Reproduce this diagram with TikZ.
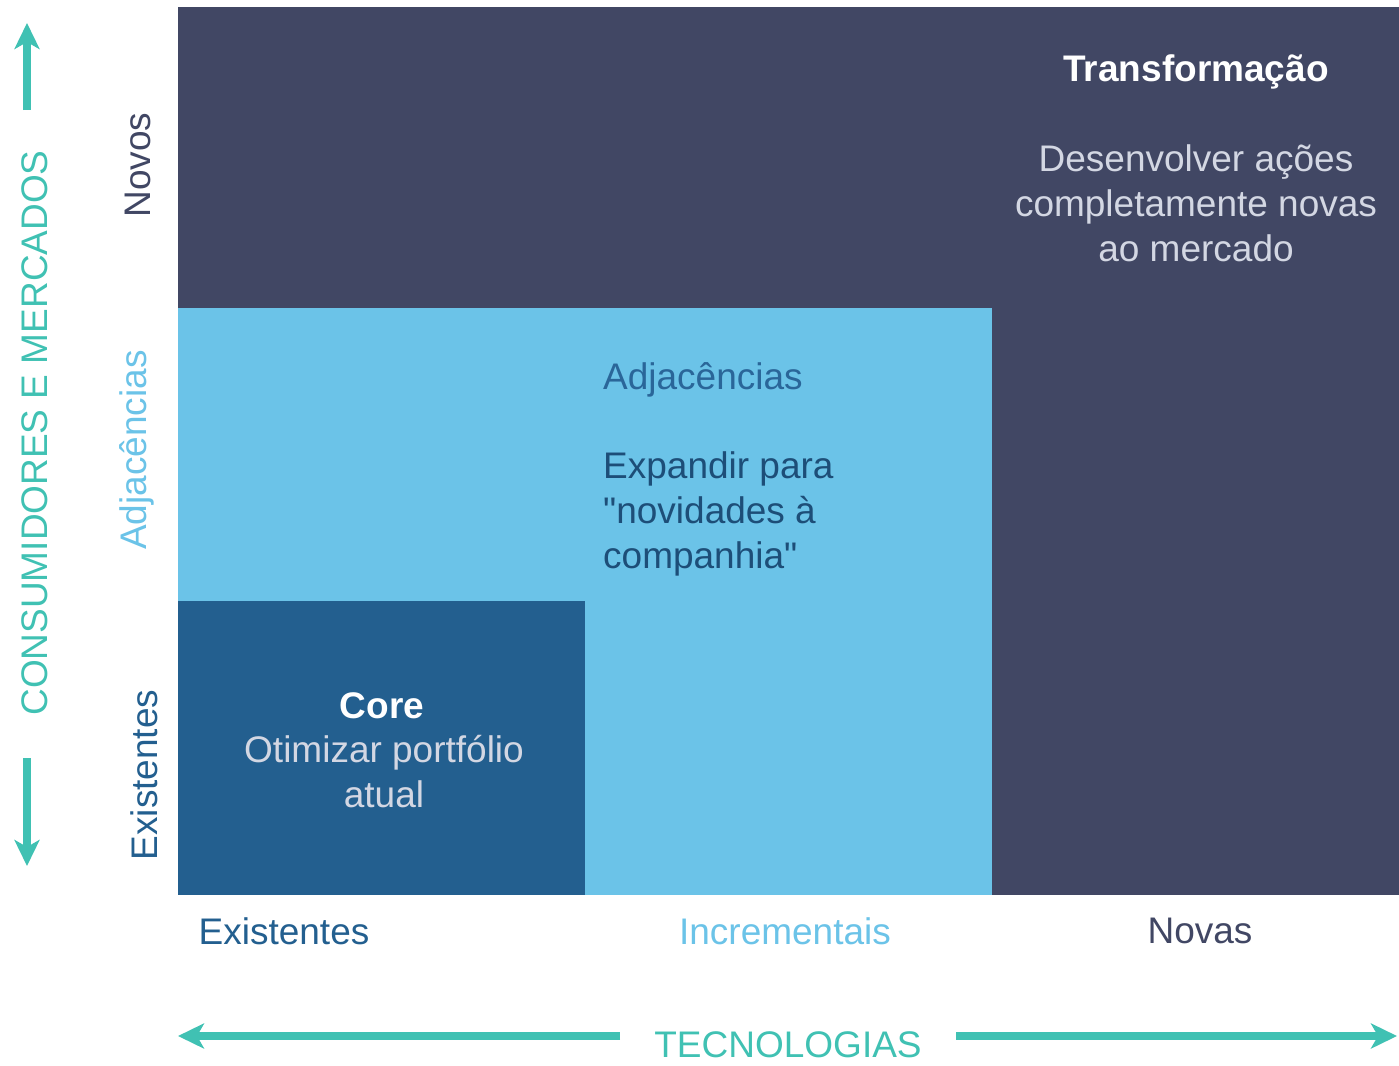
\documentclass[tikz,border=0pt]{standalone}
\usepackage{fontspec}
\setmainfont{Liberation Sans}
\usetikzlibrary{arrows.meta, positioning, calc}

\definecolor{navy}{HTML}{414764}
\definecolor{sky}{HTML}{6BC3E8}
\definecolor{coreblue}{HTML}{235F8F}
\definecolor{adjblue}{HTML}{2A6699}
\definecolor{deepblue}{HTML}{1D4E78}
\definecolor{mist}{HTML}{D3D7E3}
\definecolor{aqua}{HTML}{40C1B3}

\begin{document}
\begin{tikzpicture} [x = 1pt, y = -1pt,
  axis/.style = {aqua, line width = 8pt, -{Stealth[length = 26pt, width = 25pt, inset = 7pt]}},
  lbl/.style = {font = \fontsize{37}{45}\selectfont, inner sep = 0pt}]

\useasboundingbox (0,0) rectangle (1399,1065);

% blocks
\fill [navy] (178,7) rectangle (1399,895);
\fill [sky] (178,308) rectangle (992,895);
\fill [coreblue] (178,601) rectangle (585,895);

% axis arrows
\coordinate (up0) at (27,110);
\coordinate (up1) at (27,23);
\coordinate (dn0) at (27,758);
\coordinate (dn1) at (27,866);
\coordinate (lt0) at (620,1036);
\coordinate (lt1) at (178,1036);
\coordinate (rt0) at (956,1036);
\coordinate (rt1) at (1397,1036);

\draw [axis] (up0) -- (up1);
\draw [axis] (dn0) -- (dn1);
\draw [axis] (lt0) -- (lt1);
\draw [axis] (rt0) -- (rt1);

\node [lbl, aqua, rotate = 90] (consum) at (35,433) {CONSUMIDORES E MERCADOS};
\node [lbl, aqua] (tecno) at (788,1045) {TECNOLOGIAS};

% row labels
\node [lbl, navy, rotate = 90] (rnovos) at (138,165) {Novos};
\node [lbl, sky, rotate = 90] (radj) at (137,450) {Adjacências};
\node [lbl, coreblue, rotate = 90] (rexist) at (144,775) {Existentes};

% column labels
\node [lbl, coreblue] (cexist) at (284,931) {Existentes};
\node [lbl, sky] (cincr) at (785,931) {Incrementais};
\node [lbl, navy] (cnovas) at (1200,931) {Novas};

% block texts
\node [lbl, white, font = \fontsize{37}{45}\selectfont\bfseries] (transf) at (1196,72) {Transformação};
\node [lbl, mist, align = center] (transfbody) at (1196,203) {Desenvolver ações\\completamente novas\\ao mercado};

\node [lbl, adjblue, anchor = west] (adj) at (603,380) {Adjacências};
\node [lbl, deepblue, align = left, anchor = west] (adjbody) at (603,514) {Expandir para\\\textquotedbl novidades à\\companhia\textquotedbl};

\node [lbl, white, font = \fontsize{37}{45}\selectfont\bfseries] (core) at (382,706) {Core};
\node [lbl, mist, align = center] (corebody) at (384,772) {Otimizar portfólio\\atual};

\end{tikzpicture}
\end{document}
